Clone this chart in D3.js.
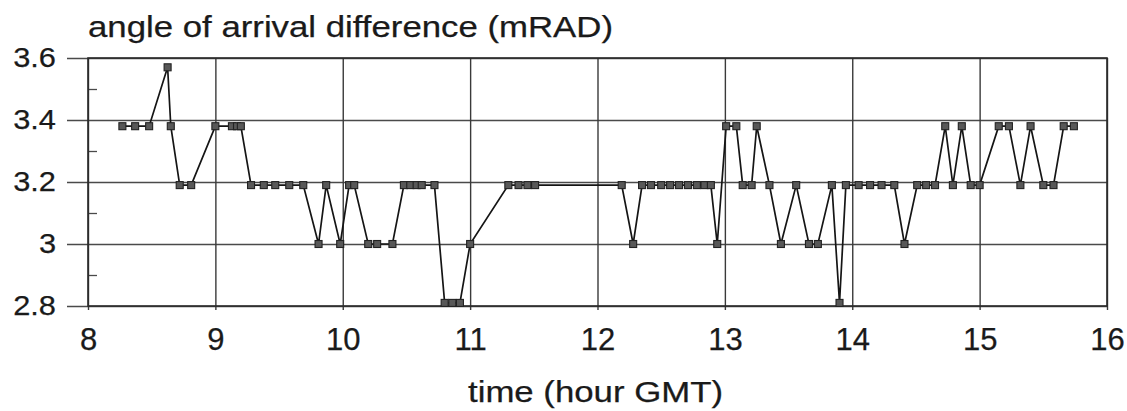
<!DOCTYPE html>
<html>
<head>
<meta charset="utf-8">
<script src="https://cdn.jsdelivr.net/npm/d3@7/dist/d3.min.js"></script>
<style>
  html, body { margin: 0; padding: 0; background: #fff; }
  svg { display: block; }
  text { font-family: "Liberation Sans", Arial, Helvetica, sans-serif; fill: #1a1a1a; }
</style>
</head>
<body>
<svg id="chart" width="1127" height="411"></svg>
<script>
// ---- data ----
const times = [8.27, 8.37, 8.48, 8.625, 8.65, 8.72, 8.81, 9.0, 9.13, 9.17, 9.2, 9.28, 9.38, 9.47, 9.58, 9.69,
  9.81, 9.87, 9.98, 10.05, 10.09, 10.2, 10.27, 10.39, 10.48, 10.53, 10.58, 10.62, 10.72, 10.8, 10.86, 10.92,
  11.0, 11.3, 11.38, 11.45, 11.51, 12.19, 12.28, 12.35, 12.42, 12.5, 12.57, 12.64, 12.71, 12.78, 12.84, 12.89,
  12.94, 13.01, 13.09, 13.14, 13.21, 13.25, 13.35, 13.44, 13.56, 13.66, 13.73, 13.84, 13.9, 13.95, 14.05,
  14.14, 14.23, 14.33, 14.41, 14.51, 14.58, 14.65, 14.73, 14.79, 14.86, 14.93, 15.0, 15.15, 15.23, 15.32,
  15.4, 15.5, 15.58, 15.66, 15.74];
const angleDiff = [3.38, 3.38, 3.38, 3.57, 3.38, 3.19, 3.19, 3.38, 3.38, 3.38, 3.38, 3.19, 3.19, 3.19, 3.19, 3.19,
  3.0, 3.19, 3.0, 3.19, 3.19, 3.0, 3.0, 3.0, 3.19, 3.19, 3.19, 3.19, 3.19, 2.81, 2.81, 2.81,
  3.0, 3.19, 3.19, 3.19, 3.19, 3.19, 3.0, 3.19, 3.19, 3.19, 3.19, 3.19, 3.19, 3.19, 3.19, 3.19,
  3.0, 3.38, 3.38, 3.19, 3.19, 3.38, 3.19, 3.0, 3.19, 3.0, 3.0, 3.19, 2.81, 3.19, 3.19,
  3.19, 3.19, 3.19, 3.0, 3.19, 3.19, 3.19, 3.38, 3.19, 3.38, 3.19, 3.19, 3.38, 3.38, 3.19,
  3.38, 3.19, 3.19, 3.38, 3.38];
const xTicks = [8, 9, 10, 11, 12, 13, 14, 15, 16];
const yTicks = [2.8, 3.0, 3.2, 3.4, 3.6];
const yMinorTicks = [2.9, 3.1, 3.3, 3.5];
const yTickLabels = ["2.8", "3", "3.2", "3.4", "3.6"];
const titleText = "angle of arrival difference (mRAD)";
const xTitleText = "time (hour GMT)";

// ---- layout ----
const L = 88, R = 1107, T = 58, B = 306;
const svg = d3.select("#chart");
svg.append("rect").attr("width", 1127).attr("height", 411).attr("fill", "#fff");

const x = d3.scaleLinear().domain([8, 16]).range([L, R]);
const y = d3.scaleLinear().domain([2.8, 3.6]).range([B, T]);

function embolden(sel) {
  sel.attr("fill", "#1a1a1a").attr("stroke", "#1a1a1a").attr("stroke-width", 0.25)
    .attr("font-family", "'Liberation Sans', Arial, sans-serif");
}

// horizontal gridlines + y labels
const gy = svg.append("g").attr("transform", `translate(${L - 21},0)`)
  .call(d3.axisLeft(y).tickValues(yTicks).tickSize(-(R - L + 21)).tickPadding(11)
    .tickFormat((d, i) => yTickLabels[i]));
gy.select(".domain").remove();
gy.selectAll(".tick line").attr("stroke", "#4a4a4a").attr("stroke-width", 1.4);
gy.selectAll(".tick text").attr("font-size", 28).call(embolden)
  .each(function () { const w = this.getComputedTextLength(); d3.select(this).attr("textLength", w * 1.1).attr("lengthAdjust", "spacingAndGlyphs"); });

// minor y ticks inside left edge
const gm = svg.append("g").attr("transform", `translate(${L},0)`)
  .call(d3.axisRight(y).tickValues(yMinorTicks).tickSize(9).tickFormat(""));
gm.select(".domain").remove();
gm.selectAll(".tick line").attr("stroke", "#4a4a4a").attr("stroke-width", 1.3);

// vertical gridlines + x labels
const gx = svg.append("g").attr("transform", `translate(0,${B})`)
  .call(d3.axisBottom(x).tickValues(xTicks).tickSizeInner(-(B - T)).tickSizeOuter(0).tickPadding(22)
    .tickFormat(d3.format("d")));
gx.select(".domain").remove();
gx.selectAll(".tick line").attr("stroke", "#3a3a3a").attr("stroke-width", 1.4);
gx.selectAll(".tick text").attr("font-size", 31).call(embolden);

// small ticks below x axis
const gx2 = svg.append("g").attr("transform", `translate(0,${B})`)
  .call(d3.axisBottom(x).tickValues(xTicks).tickSize(4).tickFormat(""));
gx2.select(".domain").remove();
gx2.selectAll(".tick line").attr("stroke", "#3a3a3a").attr("stroke-width", 1.4);

// frame
svg.append("rect").attr("x", L).attr("y", T).attr("width", R - L).attr("height", B - T)
  .attr("fill", "none").attr("stroke", "#2a2a2a").attr("stroke-width", 1.6);

// data line
const pts = times.map((t, i) => [t, angleDiff[i]]);
svg.append("path").datum(pts)
  .attr("fill", "none").attr("stroke", "#151515").attr("stroke-width", 1.7)
  .attr("d", d3.line().x(d => x(d[0])).y(d => y(d[1])));

// markers
const ms = 7;
svg.append("g").selectAll("rect").data(pts).join("rect")
  .attr("x", d => x(d[0]) - ms / 2).attr("y", d => y(d[1]) - ms / 2)
  .attr("width", ms).attr("height", ms)
  .attr("fill", "#585858").attr("stroke", "#222").attr("stroke-width", 1.1);

// titles
svg.append("text").attr("x", 88).attr("y", 37).attr("font-size", 29)
  .attr("textLength", 525).attr("lengthAdjust", "spacingAndGlyphs").text(titleText).call(embolden);
svg.append("text").attr("x", 468).attr("y", 402).attr("font-size", 29)
  .attr("textLength", 255).attr("lengthAdjust", "spacingAndGlyphs").text(xTitleText).call(embolden);
</script>
</body>
</html>
